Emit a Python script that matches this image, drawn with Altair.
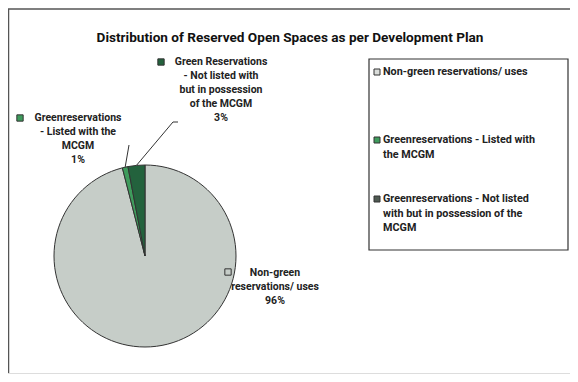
import altair as alt
import pandas as pd
import numpy as np

# ---------------- data ----------------
title_text = "Distribution of Reserved Open Spaces as per Development Plan"
categories = [
    "Non-green reservations/ uses",
    "Greenreservations - Listed with the MCGM",
    "Greenreservations - Not listed with but in possession of the MCGM",
]
values = [96, 1, 3]
slice_labels = [
    "Non-green\nreservations/ uses\n96%",
    "Greenreservations\n- Listed with the\nMCGM\n1%",
    "Green Reservations\n- Not listed with\nbut in possession\nof the MCGM\n3%",
]
legend_labels = [
    "Non-green reservations/ uses",
    "Greenreservations - Listed with\nthe MCGM",
    "Greenreservations - Not listed\nwith but in possession of the\nMCGM",
]

# ---------------- styles / layout ----------------
slice_colors = ["#C6CDC8", "#3E9B5C", "#23623D"]
swatch_colors = ["#DADDDA", "#3E9B5C", "#4F5A52"]
FONT = "Roboto, sans-serif"
W, H = 562, 366
CX, CY, R = 137, 248, 91
# label anchor positions (layout)
label_x = [267, 70, 213]
label_y = [265, 110, 54]
marker_x = [220, 12, 153]
marker_y = [264, 110, 54]
leader_end_x = [None, 121, 165]
leader_end_y = [None, 137, 114]
legend_box = (361, 560, 51, 242)
legend_marker_x = 369
legend_text_x = 375
legend_y = [64, 132, 191]

df = pd.DataFrame({
    "cat": categories,
    "value": values,
    "idx": list(range(len(values))),
    "label": slice_labels,
    "lx": label_x, "ly": label_y,
    "mx": marker_x, "my": marker_y,
    "color": slice_colors,
})

# leader lines from slice mid-angle on pie edge to label anchors
tot = float(sum(values))
cum = np.cumsum([0] + values)
mid = [(cum[i] + values[i] / 2) / tot * 2 * np.pi for i in range(len(values))]
lead_rows = []
for i in range(len(values)):
    if leader_end_x[i] is None:
        continue
    ex = CX + R * np.sin(mid[i])
    ey = CY - R * np.cos(mid[i])
    lead_rows.append({"x": ex, "y": ey, "x2": leader_end_x[i], "y2": leader_end_y[i]})
lead_rows.append({"x": leader_end_x[2], "y": leader_end_y[2], "x2": leader_end_x[2] + 5, "y2": leader_end_y[2]})
lead_df = pd.DataFrame(lead_rows)

leg_df = pd.DataFrame({
    "label": legend_labels,
    "y": legend_y,
    "color": swatch_colors,
    "x": [legend_marker_x] * 3,
    "tx": [legend_text_x] * 3,
})

px = lambda f: alt.X(f, scale=None, axis=None)
py = lambda f: alt.Y(f, scale=None, axis=None)

one = pd.DataFrame({"a": [0]})
frame_top = alt.Chart(one).mark_rule(color="#555", strokeWidth=1.5).encode(
    x=alt.value(0), x2=alt.value(W), y=alt.value(1))
frame_left = alt.Chart(one).mark_rule(color="#555", strokeWidth=1.5).encode(
    x=alt.value(0.5), y=alt.value(1), y2=alt.value(H))
frame_bottom = alt.Chart(one).mark_rule(color="#DDD", strokeWidth=1).encode(
    x=alt.value(0), x2=alt.value(W), y=alt.value(H - 0.5))

title = alt.Chart(pd.DataFrame({"t": [title_text]})).mark_text(
    font=FONT, fontSize=13.6, fontWeight="bold", color="#111", align="center", baseline="middle"
).encode(x=alt.value(282), y=alt.value(30), text="t:N")

pie = alt.Chart(df).mark_arc(radius=R, stroke="#333", strokeWidth=1).encode(
    theta=alt.Theta("value:Q", stack=True),
    color=alt.Color("cat:N", scale=alt.Scale(domain=categories, range=slice_colors), legend=None),
    order=alt.Order("idx:Q"),
    x=alt.value(CX), y=alt.value(CY),
)

leaders = alt.Chart(lead_df).mark_rule(color="#333", strokeWidth=1).encode(
    x=px("x:Q"), y=py("y:Q"), x2="x2:Q", y2="y2:Q")

markers = alt.Chart(df).mark_square(size=40, stroke="#333", strokeWidth=1, opacity=1).encode(
    x=px("mx:Q"), y=py("my:Q"),
    fill=alt.Fill("color:N", scale=None))

labels = alt.Chart(df).mark_text(
    font=FONT, fontSize=10.5, fontWeight="bold", color="#222", lineBreak="\n", lineHeight=14,
    align="center", baseline="middle"
).encode(x=px("lx:Q"), y=py("ly:Q"), text="label:N")

box = alt.Chart(one).mark_rect(fill="white", stroke="#333", strokeWidth=1.2).encode(
    x=alt.value(legend_box[0]), x2=alt.value(legend_box[1]),
    y=alt.value(legend_box[2]), y2=alt.value(legend_box[3]))

leg_markers = alt.Chart(leg_df).mark_square(size=36, stroke="#333", strokeWidth=1, opacity=1).encode(
    x=px("x:Q"), y=py("y:Q"), fill=alt.Fill("color:N", scale=None))

leg_text = alt.Chart(leg_df).mark_text(
    font=FONT, fontSize=10.8, fontWeight="bold", color="#222", lineBreak="\n", lineHeight=14.5,
    align="left", baseline="middle"
).encode(x=px("tx:Q"), y=py("y:Q"), text="label:N")

chart = alt.layer(
    frame_top, frame_left, frame_bottom, title, pie, leaders, markers, labels, box, leg_markers, leg_text
).properties(
    width=W, height=H, autosize=alt.AutoSizeParams(type="none"), padding=0, background="white"
).configure_view(stroke=None)

chart.save("out.html", embed_options={"renderer": "svg", "actions": False})
